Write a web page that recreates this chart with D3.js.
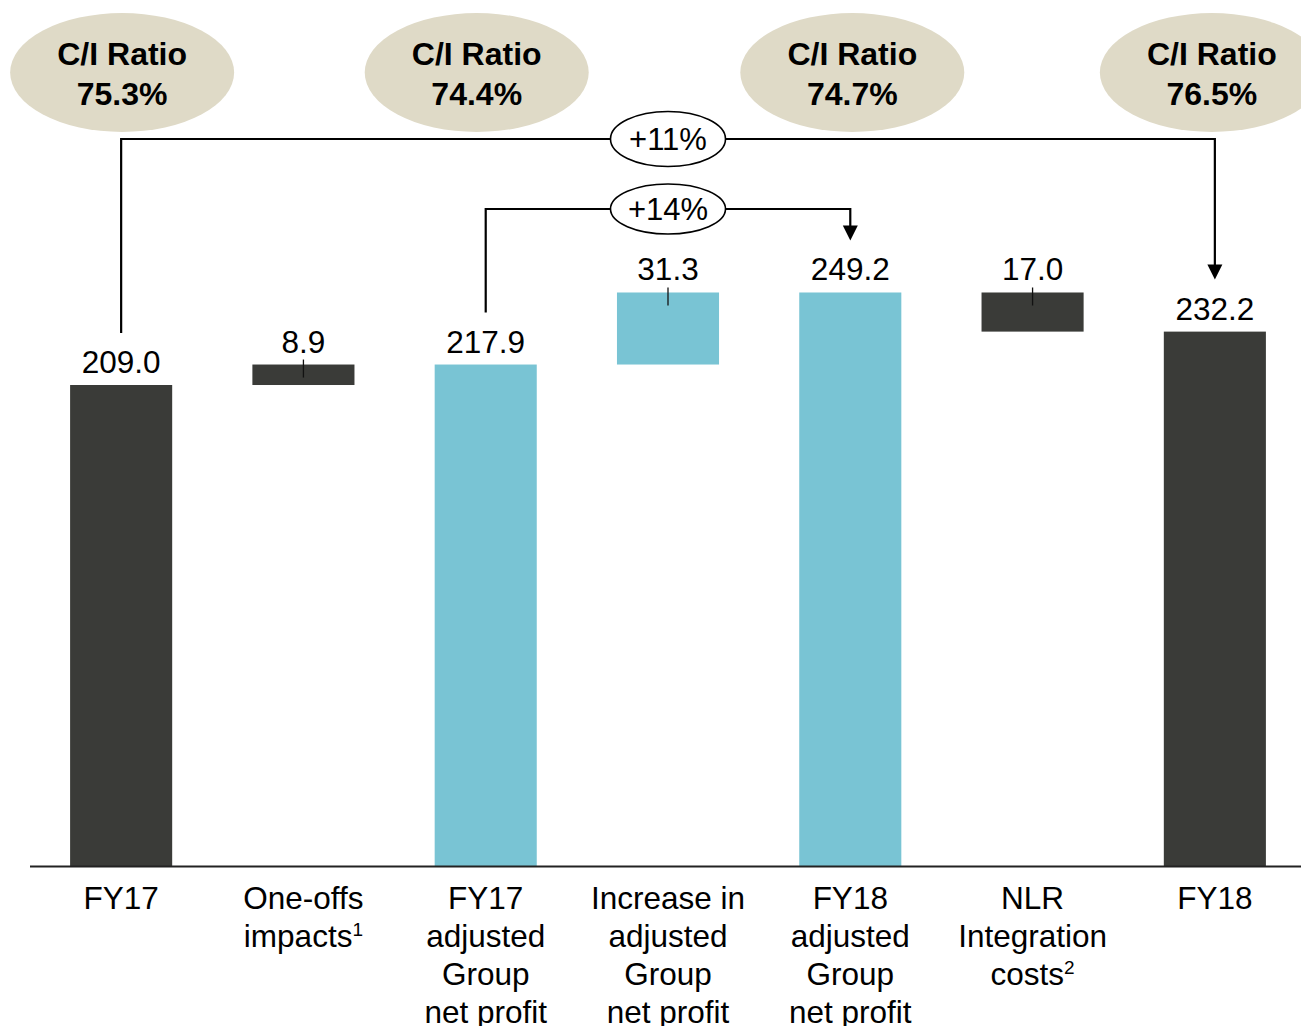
<!DOCTYPE html>
<html>
<head>
<meta charset="utf-8">
<script src="https://cdn.jsdelivr.net/npm/d3@7"></script>
<style>
  html, body { margin: 0; padding: 0; background: #fff; }
  svg { display: block; font-family: "Liberation Sans", Arial, Helvetica, sans-serif; }
</style>
</head>
<body>
<svg id="chart" width="1301" height="1026"></svg>
<script>
// Group net profit bridge FY17 -> FY18 (EUR m)
const categories = [
  "FY17",
  "One-offs impacts",
  "FY17 adjusted Group net profit",
  "Increase in adjusted Group net profit",
  "FY18 adjusted Group net profit",
  "NLR Integration costs",
  "FY18"
];
const labelLines = [
  ["FY17"],
  ["One-offs", "impacts"],
  ["FY17", "adjusted", "Group", "net profit"],
  ["Increase in", "adjusted", "Group", "net profit"],
  ["FY18", "adjusted", "Group", "net profit"],
  ["NLR", "Integration", "costs"],
  ["FY18"]
];
const footnoteMarks = ["", "1", "", "", "", "2", ""];
const values = [209.0, 8.9, 217.9, 31.3, 249.2, -17.0, 232.2];
const barKinds = ["total", "step", "total", "step", "total", "step", "total"];
const colorGroups = ["dark", "dark", "cyan", "cyan", "cyan", "dark", "dark"];

// Cost/income ratio bubbles
const ciCategories = ["FY17", "FY17 adjusted Group net profit", "FY18 adjusted Group net profit", "FY18"];
const ciRatios = ["75.3%", "74.4%", "74.7%", "76.5%"];

// Growth connectors
const growthFrom = ["FY17", "FY17 adjusted Group net profit"];
const growthTo = ["FY18", "FY18 adjusted Group net profit"];
const growthLabels = ["+11%", "+14%"];

const palette = { dark: "#3a3b38", cyan: "#79c4d4" };

const svg = d3.select("#chart");
const W = 1301, H = 1026;
const baseY = 866;
const labelSize = 31.5;

const x = d3.scaleBand()
  .domain(categories)
  .range([30, 1306])
  .paddingInner(0.44)
  .paddingOuter(0.22);

const y = d3.scaleLinear()
  .domain([0, 250])
  .range([baseY, baseY - 250 * 2.3014]);

// waterfall segments
let running = 0;
const bars = categories.map((c, i) => {
  let y0, y1;
  if (barKinds[i] === "total") { y0 = 0; y1 = values[i]; running = values[i]; }
  else { y0 = running; y1 = running + values[i]; running = y1; }
  return { cat: c, i, y0, y1, v: values[i], kind: barKinds[i], color: palette[colorGroups[i]] };
});
const byCat = new Map(bars.map(b => [b.cat, b]));
const cx = c => x(c) + x.bandwidth() / 2;
const topOf = b => y(Math.max(b.y0, b.y1));
const labelBase = b => topOf(b) - 12;

// bars
svg.append("g").selectAll("rect").data(bars).join("rect")
  .attr("x", d => x(d.cat))
  .attr("width", x.bandwidth())
  .attr("y", d => y(Math.max(d.y0, d.y1)))
  .attr("height", d => Math.abs(y(d.y0) - y(d.y1)))
  .attr("fill", d => d.color);

// small leader ticks on step bars
svg.append("g").selectAll("line").data(bars.filter(b => b.kind === "step")).join("line")
  .attr("x1", d => cx(d.cat)).attr("x2", d => cx(d.cat))
  .attr("y1", d => topOf(d) - 5).attr("y2", d => topOf(d) + 13)
  .attr("stroke", "#111").attr("stroke-width", 1.3);

// value labels
svg.append("g").selectAll("text").data(bars).join("text")
  .attr("x", d => cx(d.cat))
  .attr("y", d => labelBase(d))
  .attr("text-anchor", "middle")
  .attr("font-size", labelSize)
  .attr("fill", "#000")
  .text(d => Math.abs(d.v).toFixed(1));

// baseline
svg.append("line")
  .attr("x1", 30).attr("x2", W)
  .attr("y1", baseY + 0.5).attr("y2", baseY + 0.5)
  .attr("stroke", "#222").attr("stroke-width", 2);

// category labels
const catG = svg.append("g");
categories.forEach((c, i) => {
  const t = catG.append("text")
    .attr("x", cx(c))
    .attr("y", 909)
    .attr("text-anchor", "middle")
    .attr("font-size", labelSize)
    .attr("fill", "#000");
  labelLines[i].forEach((line, k) => {
    const last = k === labelLines[i].length - 1;
    const ts = t.append("tspan").attr("x", cx(c)).attr("dy", k === 0 ? 0 : 38);
    if (last && footnoteMarks[i]) {
      ts.append("tspan").text(line);
      ts.append("tspan").attr("font-size", 19).attr("dy", -11).text(footnoteMarks[i]);
    } else {
      ts.text(line);
    }
  });
});

// C/I ratio bubbles
const bubbleNudge = [1, -9, 2, -3];
const bub = svg.append("g");
ciCategories.forEach((c, i) => {
  const bx = cx(c) + bubbleNudge[i];
  bub.append("ellipse")
    .attr("cx", bx).attr("cy", 72.5)
    .attr("rx", 112).attr("ry", 59.5)
    .attr("fill", "#dfdac7");
  bub.append("text")
    .attr("x", bx).attr("y", 65)
    .attr("text-anchor", "middle")
    .attr("font-size", 32).attr("font-weight", "bold")
    .attr("fill", "#000")
    .text("C/I Ratio");
  bub.append("text")
    .attr("x", bx).attr("y", 105)
    .attr("text-anchor", "middle")
    .attr("font-size", 32).attr("font-weight", "bold")
    .attr("fill", "#000")
    .text(ciRatios[i]);
});

// growth connectors with arrows
const connLevels = [139, 209];
const connRy = [27.5, 25];
const conn = svg.append("g");
growthLabels.forEach((lab, i) => {
  const a = byCat.get(growthFrom[i]);
  const b = byCat.get(growthTo[i]);
  const xa = cx(a.cat), xb = cx(b.cat);
  const yStart = labelBase(a) - 40;
  const tip = labelBase(b) - 40;
  const hy = connLevels[i];
  conn.append("path")
    .attr("d", `M${xa},${yStart}V${hy}H${xb}V${tip - 13}`)
    .attr("fill", "none")
    .attr("stroke", "#000")
    .attr("stroke-width", 2.2);
  conn.append("path")
    .attr("d", `M${xb - 7.5},${tip - 15}L${xb + 7.5},${tip - 15}L${xb},${tip}Z`)
    .attr("fill", "#000");
  const mx = (xa + xb) / 2;
  conn.append("ellipse")
    .attr("cx", mx).attr("cy", hy)
    .attr("rx", 57.5).attr("ry", connRy[i])
    .attr("fill", "#fff")
    .attr("stroke", "#000")
    .attr("stroke-width", 1.6);
  conn.append("text")
    .attr("x", mx).attr("y", hy + 11)
    .attr("text-anchor", "middle")
    .attr("font-size", 31)
    .attr("fill", "#000")
    .text(lab);
});
</script>
</body>
</html>
